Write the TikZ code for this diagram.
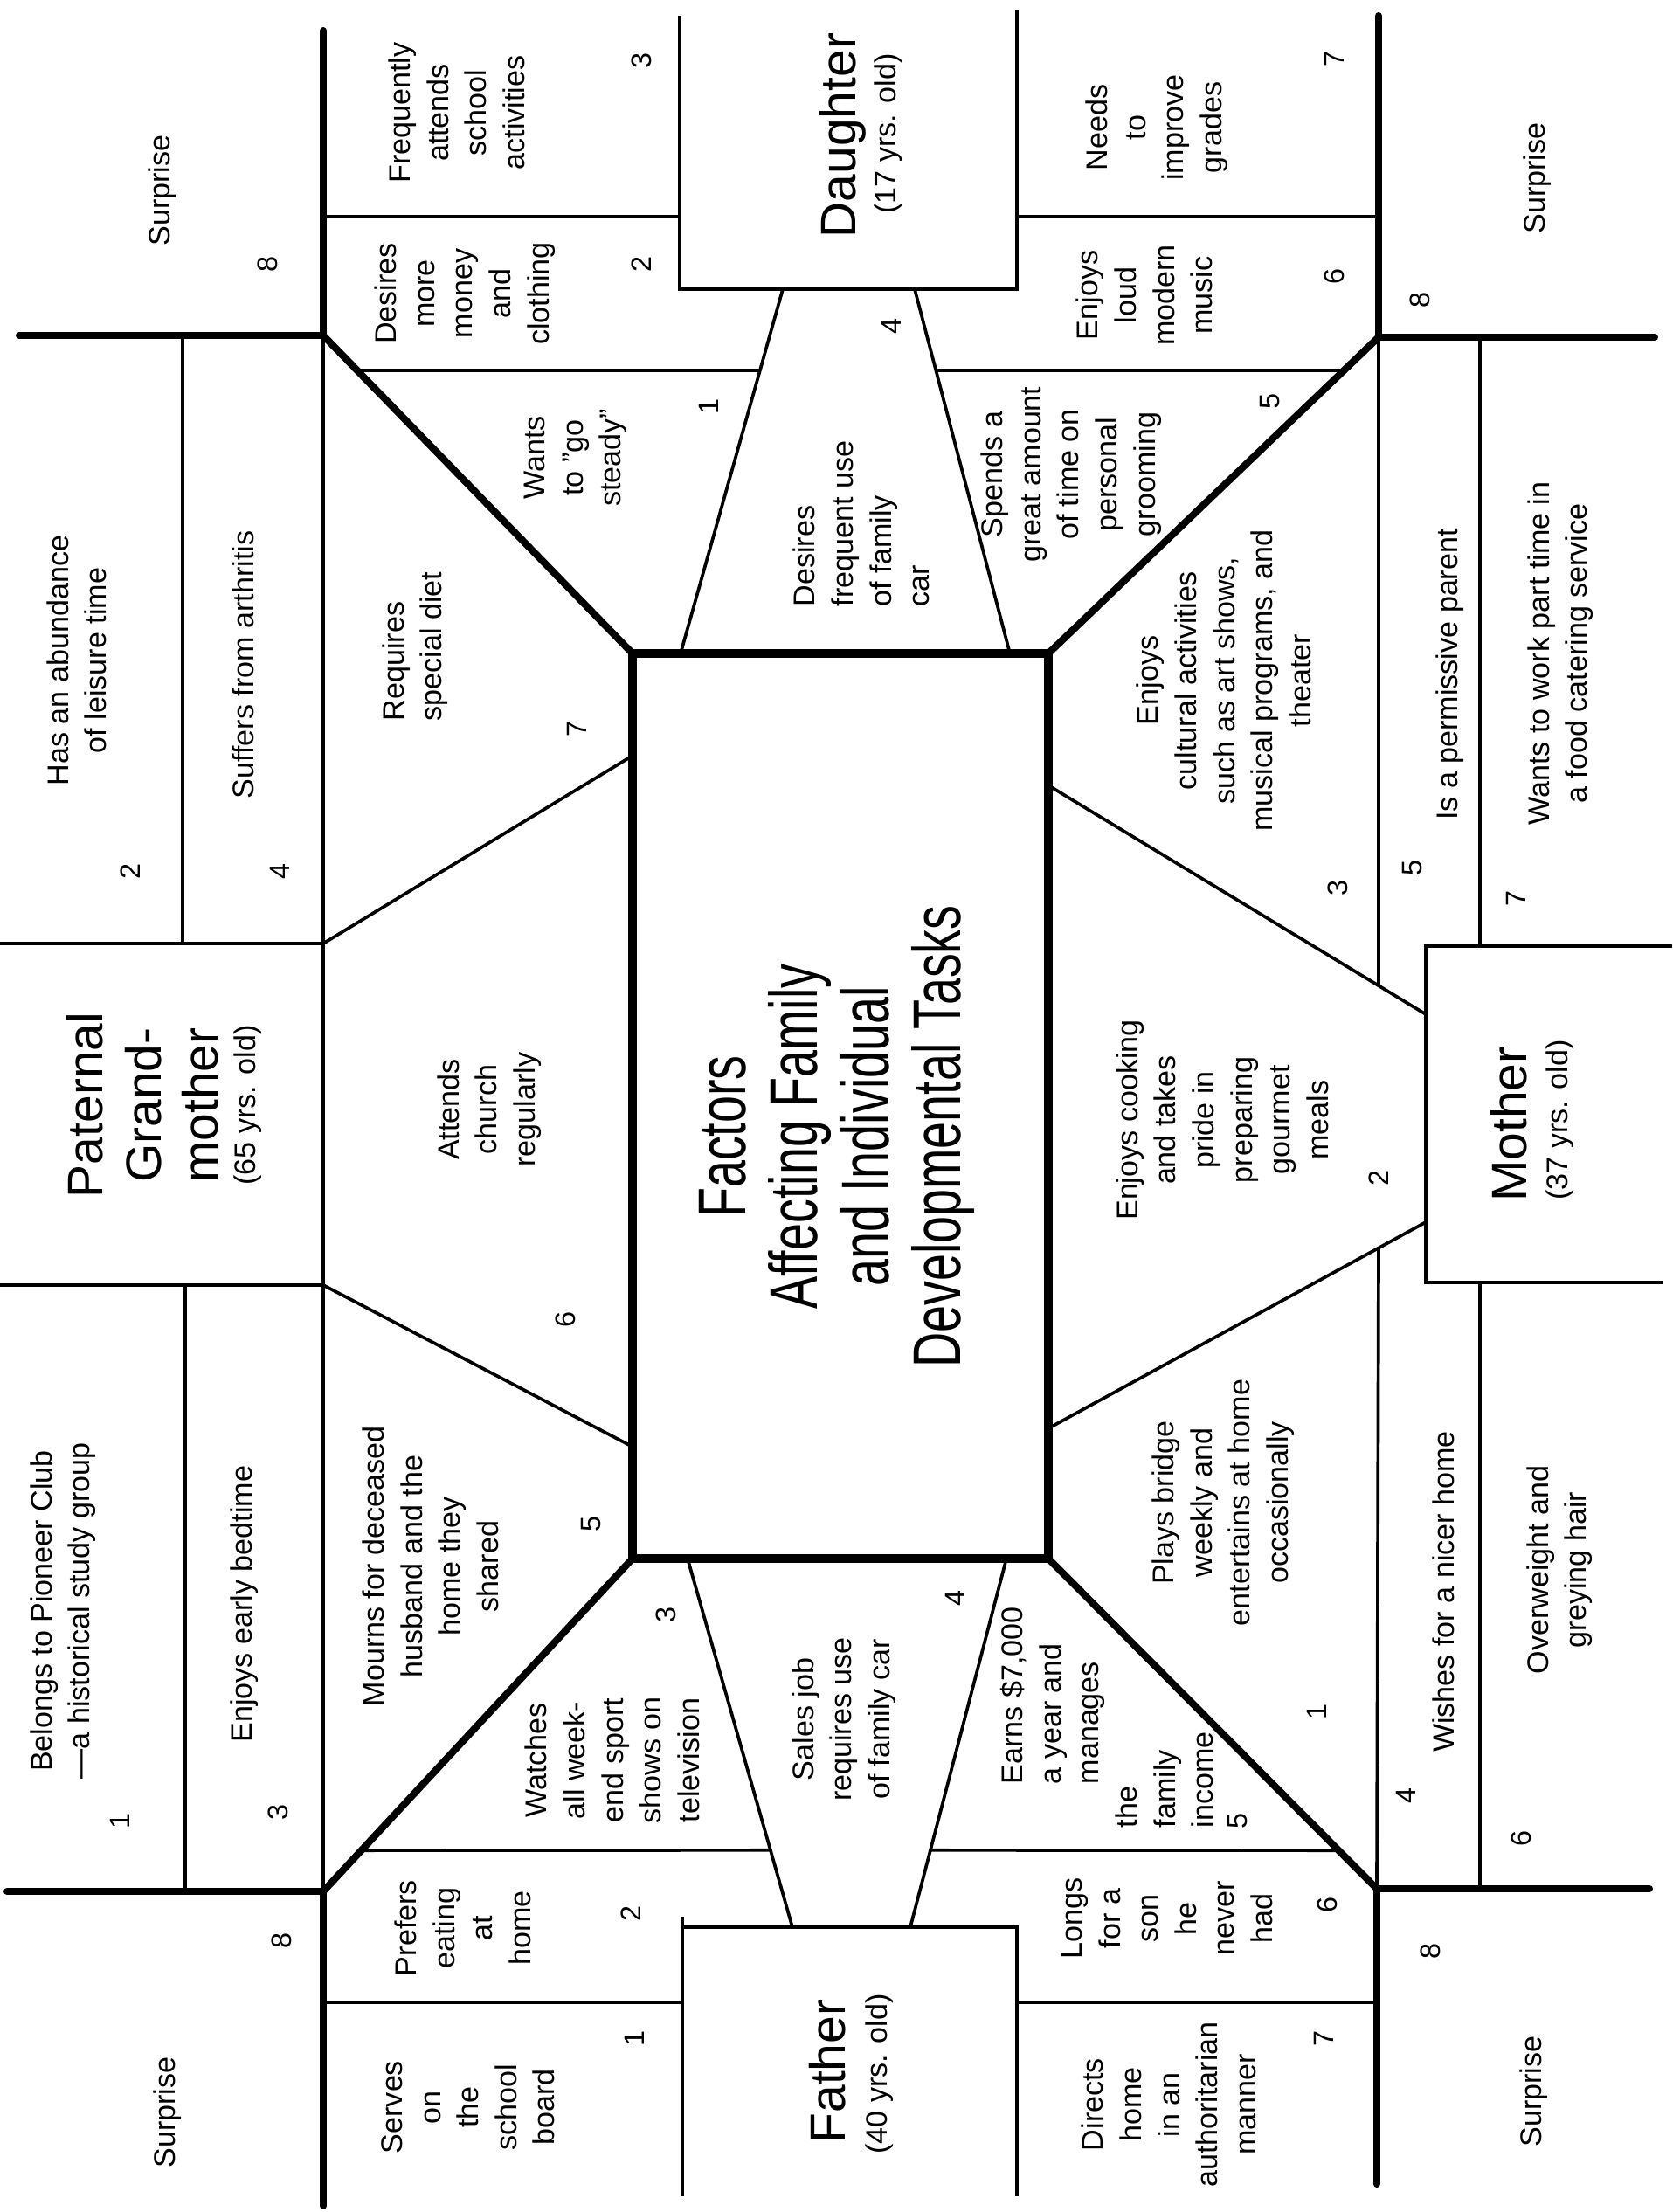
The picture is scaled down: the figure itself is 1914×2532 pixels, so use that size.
\documentclass[tikz,border=0pt]{standalone}
\usepackage{fontspec}
\setmainfont{Liberation Sans}
\newfontfamily\titlefont[FakeStretch=0.72]{Liberation Sans}
\usetikzlibrary{calc}
\begin{document}
\begin{tikzpicture}[x=0.01cm,y=-0.01cm,
  thn/.style={line width=1.05pt},
  thk/.style={line width=2.3pt,line cap=round},
  box/.style={line width=2.6pt},
  txt/.style={rotate=90,align=center,inner sep=0pt,font=\fontsize{9.7}{12.4}\selectfont},
  ltxt/.style={rotate=90,align=left,inner sep=0pt,anchor=west,font=\fontsize{9.7}{12.4}\selectfont},
  num/.style={rotate=90,inner sep=0pt,font=\fontsize{9.2}{10}\selectfont},
  who/.style={rotate=90,inner sep=0pt,anchor=base,font=\fontsize{16.2}{19}\selectfont},
  age/.style={rotate=90,inner sep=0pt,anchor=base,font=\fontsize{9.7}{12}\selectfont},
  ttl/.style={rotate=90,align=center,inner sep=0pt,font=\titlefont\fontsize{22}{23.3}\selectfont}
]
\fill[white] (0,0) rectangle (1914,2532);
\useasboundingbox (0,0) rectangle (1914,2532);

% key points
\coordinate (C1) at (370,384);
\coordinate (C2) at (1578,386);
\coordinate (C3) at (370,2165);
\coordinate (C4) at (1576,2162);
\coordinate (R1) at (724,748);
\coordinate (R2) at (1200,748);
\coordinate (R3) at (724,1784);
\coordinate (R4) at (1200,1784);
% trapezoid ends
\coordinate (D1) at (896,331);  \coordinate (D2) at (779,748);
\coordinate (D3) at (1047,331); \coordinate (D4) at (1156,748);
\coordinate (F1) at (787,1784); \coordinate (F2) at (907,2206);
\coordinate (F3) at (1152,1784);\coordinate (F4) at (1042,2206);
\coordinate (G1) at (370,1080); \coordinate (G2) at (724,865);
\coordinate (G3) at (370,1471); \coordinate (G4) at (724,1656);
\coordinate (M1) at (1200,899); \coordinate (M2) at (1632,1161);
\coordinate (M3) at (1200,1635);\coordinate (M4) at (1632,1399);

% thin lines
\draw[thn] (C1) -- (C3);
\draw[thn] (1578,1128) -- (C2);
\draw[thn] (1578,1429) -- (C4);
\draw[thn] (209,384) -- (209,1080);
\draw[thn] (212,1471) -- (212,2165);
\draw[thn] (1694,386) -- (1694,1083);
\draw[thn] (1694,1468) -- (1694,2162);
% grandmother box
\draw[thn] (0,1080) -- (G1);
\draw[thn] (0,1471) -- (G3);
% mother box
\draw[thn] (1914,1083) -- (1632,1083) -- (1632,1468) -- (1903,1468);
% daughter box
\draw[thn] (778,18) -- (778,331) -- (1164,331) -- (1164,11);
% father box
\draw[thn] (781,2194) -- (781,2514);
\draw[thn] (781,2206) -- (1164,2206) -- (1164,2514);
% top dividers
\draw[thn] (370,248) -- (778,248);
\draw[thn] (1164,248) -- (1578,248);
\draw[thn] ($(C1)!0.11!(R1)$) -- ($(D1)!0.223!(D2)$);
\draw[thn] ($(D3)!0.223!(D4)$) -- ($(C2)!0.105!(R2)$);
% bottom dividers
\draw[thn] (370,2292) -- (781,2292);
\draw[thn] (1164,2292) -- (1576,2292);
\draw[thn] ($(C3)!0.123!(R3)$) -- ($(F1)!0.791!(F2)$);
\draw[thn] ($(F3)!0.791!(F4)$) -- ($(C4)!0.116!(R4)$);
% trapezoids
\draw[thn] (D1) -- (D2);
\draw[thn] (D3) -- (D4);
\draw[thn] (F1) -- (F2);
\draw[thn] (F3) -- (F4);
\draw[thn] (G1) -- (G2);
\draw[thn] (G3) -- (G4);
\draw[thn] (M1) -- (M2);
\draw[thn] (M3) -- (M4);

% thick lines
\draw[thk] (370,35) -- (C1) -- (22,384);
\draw[thk] (C1) -- (R1);
\draw[thk] (1578,18) -- (C2) -- (1894,386);
\draw[thk] (C2) -- (R2);
\draw[thk] (8,2165) -- (C3) -- (370,2525);
\draw[thk] (C3) -- (R3);
\draw[thk] (1888,2162) -- (C4) -- (1576,2500);
\draw[thk] (C4) -- (R4);
% central box
\draw[box,fill=white] (R1) rectangle (R4);
\node[ttl] (title) at (958,1301) {Factors\\Affecting Family\\and Individual\\Developmental Tasks};

% ---- top-left / daughter
\node[txt] (s1) at (186,218) {Surprise};
\node[num] (n8a) at (306,302) {8};
\node[txt] (d3t) at (523,129) {Frequently\\attends\\school\\activities};
\node[num] (d3) at (734,69) {3};
\node[txt] (d2t) at (532,336) {Desires\\more\\money\\and\\clothing};
\node[num] (d2) at (734,302) {2};
\node[txt] (d1t) at (659,524) {Wants\\to ”go\\steady”};
\node[num] (d1) at (811,465) {1};
\node[who] (dn) at (979,155) {Daughter};
\node[age] (da) at (1025,153) {(17 yrs. old)};
\node[num] (d4) at (1020,373) {4};
\node[ltxt] (d4t) at (986,695) {Desires\\frequent use\\of family\\car};
\node[txt] (d7t) at (1324,146) {Needs\\to\\improve\\grades};
\node[num] (d7) at (1527,67) {7};
\node[txt] (d6t) at (1310,338) {Enjoys\\loud\\modern\\music};
\node[num] (d6) at (1527,316) {6};
\node[txt] (d5t) at (1226,543) {Spends a\\great amount\\of time on\\personal\\grooming};
\node[num] (d5) at (1454,459) {5};
\node[num] (n8b) at (1625,343) {8};
\node[txt] (s2) at (1760,204) {Surprise};

% ---- grandmother
\node[txt] (g2t) at (88,756) {Has an abundance\\of leisure time};
\node[num] (g2) at (149,997) {2};
\node[txt] (g4t) at (278,761) {Suffers from arthritis};
\node[num] (g4) at (320,997) {4};
\node[ltxt] (g7t) at (475,826) {Requires\\special diet};
\node[num] (g7) at (660,834) {7};
\node[who] (gn1) at (117,1265) {Paternal};
\node[who] (gn2) at (184,1265) {Grand-};
\node[who] (gn3) at (249,1265) {mother};
\node[age] (ga) at (292,1265) {(65 yrs. old)};
\node[txt] (g6t) at (560,1270) {Attends\\church\\regularly};
\node[num] (g6) at (647,1510) {6};
\node[txt] (g5t) at (493,1793) {Mourns for deceased\\husband and the\\home they\\shared};
\node[num] (g5) at (677,1744) {5};
\node[txt] (g1t) at (72,1844) {Belongs to Pioneer Club\\---a historical study group};
\node[num] (g1) at (137,2084) {1};
\node[txt] (g3t) at (280,1836) {Enjoys early bedtime};
\node[num] (g3) at (318,2074) {3};
\node[num] (n8c) at (322,2221) {8};
\node[txt] (s3) at (192,2418) {Surprise};

% ---- father
\node[txt] (f3t) at (701,2015) {Watches\\all week-\\end sport\\shows on\\television};
\node[num] (f3) at (762,1848) {3};
\node[txt] (f4t) at (966,1968) {Sales job\\requires use\\of family car};
\node[num] (f4) at (1093,1829) {4};
\node[ltxt] (f5t) at (1205,2043) {Earns \$7,000\\a year and\\manages};
\node[ltxt] (f5u) at (1333,2093) {the\\family\\income};
\node[num] (f5) at (1417,2084) {5};
\node[txt] (f2t) at (530,2207) {Prefers\\eating\\at\\home};
\node[num] (f2) at (722,2190) {2};
\node[txt] (f1t) at (536,2412) {Serves\\on\\the\\school\\board};
\node[num] (f1) at (726,2333) {1};
\node[who] (fn) at (967,2371) {Father};
\node[age] (fa) at (1015,2374) {(40 yrs. old)};
\node[txt] (f6t) at (1336,2196) {Longs\\for a\\son\\he\\never\\had};
\node[num] (f6) at (1519,2180) {6};
\node[txt] (f7t) at (1338,2409) {Directs\\home\\in an\\authoritarian\\manner};
\node[num] (f7) at (1515,2333) {7};
\node[num] (n8d) at (1637,2233) {8};
\node[txt] (s4) at (1756,2394) {Surprise};

% ---- mother
\node[txt] (m3t) at (1401,779) {Enjoys\\cultural activities\\such as art shows,\\musical programs, and\\theater};
\node[num] (m3) at (1531,1016) {3};
\node[num] (m5) at (1617,993) {5};
\node[txt] (m5t) at (1660,772) {Is a permissive parent};
\node[num] (m7) at (1735,1028) {7};
\node[txt] (m7t) at (1786,748) {Wants to work part time in\\a food catering service};
\node[txt] (m2t) at (1399,1282) {Enjoys cooking\\and takes\\pride in\\preparing\\gourmet\\meals};
\node[num] (m2) at (1578,1348) {2};
\node[who] (mn) at (1747,1287) {Mother};
\node[age] (ma) at (1794,1282) {(37 yrs. old)};
\node[txt] (m1t) at (1400,1720) {Plays bridge\\weekly and\\entertains at home\\occasionally};
\node[num] (m1) at (1507,1959) {1};
\node[txt] (m4t) at (1652,1822) {Wishes for a nicer home};
\node[num] (m4) at (1609,2055) {4};
\node[txt] (m6t) at (1785,1797) {Overweight and\\greying hair};
\node[num] (m6) at (1741,2104) {6};
\end{tikzpicture}
\end{document}
